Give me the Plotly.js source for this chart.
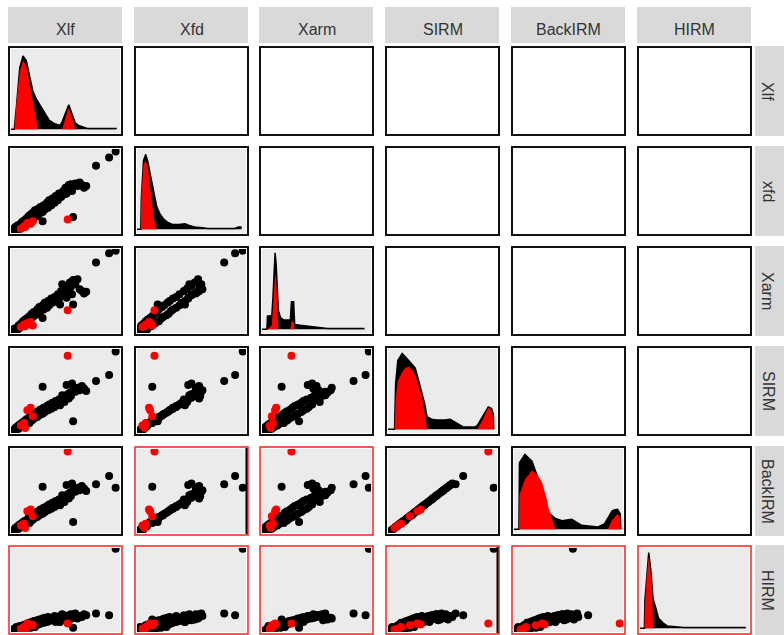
<!DOCTYPE html>
<html><head><meta charset="utf-8">
<script src="https://cdn.plot.ly/plotly-3.0.1.min.js"></script>
<style>html,body{margin:0;padding:0;background:#fff}#chart{width:784px;height:635px}</style>
</head><body><div id="chart"></div>
<script>
// ---------- data ----------
const colLabels = ["Xlf", "Xfd", "Xarm", "SIRM", "BackIRM", "HIRM"];
const rowLabels = ["Xlf", "xfd", "Xarm", "SIRM", "BackIRM", "HIRM"];

// sample group: k = black, r = red
const group = ["k","k","k","k","k","k","k","k","k","k","k","k","k","k","k","k","k","k","k","k",
  "k","k","k","k","k","k","k","k","k","k","k","k","k","k","k","k","k","k","k","k",
  "k","k","k","k","k","k","k","k","k","k","k","k","k","k","k","k","k",
  "k","k","k","k","k",
  "r","r","r","r","r","r","r"];
const Xlf = [1,2,3,4,5,6,7,8,9,10,11,12,13,14,15,16,17,18,19,20,
  21,22,24,25,26,27,29,30,31,33,34,35,37,38,40,41,43,44,45,46,
  48,49,50,52,53,54,55,57,59,61,63,65,67,69,56,47,51,
  29,57,78,90,96,
  12,15,18,20,9,13,52];
const Xfd = [2,5,1,7,3,9,4,10,6,13,8,15,10,17,12,20,14,22,16,24,
  18,27,20,29,23,31,25,33,28,36,30,39,33,41,36,44,39,47,44,43,
  50,46,54,50,57,53,58,56,59,56,60,57,54,56,50,48,47,
  14,19,80,90,97,
  8,12,11,14,5,7,16];
const Xarm = [1,3,5,2,6,4,9,6,11,8,14,10,16,12,18,14,20,17,23,19,
  25,21,28,23,31,26,33,28,36,30,38,33,41,36,43,38,46,41,34,50,
  45,53,48,56,52,60,55,63,58,64,52,50,47,49,46,58,42,
  18,34,84,95,98,
  10,12,13,9,7,8,27];
const SIRM = [1,3,2,6,4,8,5,10,7,12,9,14,11,16,13,18,12,20,15,22,
  17,24,19,26,21,28,23,30,25,32,27,34,29,36,31,38,34,40,33,40,
  42,37,44,46,41,48,44,51,49,54,51,56,53,50,59,45,57,
  55,14,62,69,97,
  12,27,30,20,9,6,92];
const BackIRM = [1,3,2,6,4,8,5,10,7,12,9,14,11,15,13,18,12,20,15,21,
  17,24,19,26,21,28,23,30,25,32,27,34,29,36,31,38,34,40,33,40,
  42,37,44,46,41,48,44,51,49,54,51,56,53,50,59,45,57,
  55,13,58,68,54,
  11,26,28,20,9,6,97];
const HIRM = [1,2,4,1,6,3,2,7,5,3,8,6,9,4,10,7,11,5,12,8,
  13,6,14,9,15,10,16,11,17,12,18,13,16,14,19,12,17,15,12,20,
  16,19,17,14,20,15,21,17,22,16,19,18,21,20,18,21,19,
  15,5,22,20,99,
  6,10,9,8,4,3,10];

// density curves on the diagonal (x grid per variable, heights in % of max)
const XlfGrid   = [0,3,5,8,11,14,17,20,23,25,27,31,35,40,45,47,50,53,56,59,62,66,70,80,90,97];
const XlfAll    = [0,0,30,80,96,90,70,50,40,35,30,20,12,7,5,10,22,32,20,8,5,3,1,1,1,1];
const XlfRed    = [0,0,35,75,90,82,60,35,15,0,0,0,0,0,0,0,15,28,15,0,0,0,0,0,0,0];
const XfdGrid   = [0,3.5,4,6,8,10,12,14,16,18,21,24,28,33,38,44,48,53,60,65,80,90,93,96];
const XfdAll    = [0,0,42,90,98,88,73,58,45,30,20,14,9,6,6,7,5,3,2,1,1,1,3,3];
const XfdRed    = [0,0,45,85,90,80,55,30,10,0,0,0,0,0,0,0,0,0,0,0,0,0,0,0];
const XarmGrid  = [0,4.5,5,9,10,11,12,13,14,15,17,20,26,27,29,30,35,41,50,60,94];
const XarmAll   = [0,0,17,18,40,70,100,85,55,25,15,12,12,36,36,6,5,4,2,1,1];
const XarmRed   = [0,0,0,5,30,60,72,65,20,0,0,0,0,10,10,0,0,0,0,0,0];
const SIRMGrid  = [0,6,7,9,13,16,19,22,25,29,31,34,35,36,40,45,52,57,63,69,75,80,82,86,92,95,96.5,97];
const SIRMAll   = [0,0,60,90,99,95,90,85,80,59,48,31,22,16,13,12,12,13,8,3,3,3,5,14,29,27,20,0];
const SIRMRed   = [0,0,40,63,75,80,82,78,71,50,43,18,5,0,0,0,0,0,0,0,0,0,0,10,28,25,15,0];
const BackGrid  = [0,4.5,5,10,16.5,21,25.5,30,32,36,38,44,53,62,77,83,86,90,92,95,97.5,98];
const BackAll   = [0,0,87,98,89,71,50,26,21,16,14,11,13,5,3,7,15,24,25,26,20,0];
const BackRed   = [0,0,45,65,77,72,62,40,26,8,0,0,0,0,0,0,0,12,15,20,15,0];
const HIRMGrid  = [0,4,4.5,6,8,10,11,11.5,12,14,17,21,25,40,97];
const HIRMAll   = [0,0,37,70,99,75,60,45,38,29,13,7,3,1,1];
const HIRMRed   = [0,0,30,65,94,70,58,30,0,0,0,0,0,0,0];

// ---------- assembly ----------
const vals = [Xlf, Xfd, Xarm, SIRM, BackIRM, HIRM];
const dens = [[XlfGrid, XlfAll, XlfRed], [XfdGrid, XfdAll, XfdRed], [XarmGrid, XarmAll, XarmRed],
              [SIRMGrid, SIRMAll, SIRMRed], [BackGrid, BackAll, BackRed], [HIRMGrid, HIRMAll, HIRMRed]];

const W = 784, H = 635;
const colL = [8, 134, 259, 385, 511, 637], pw = 115;
const rowT = [46, 146, 246, 346, 446, 545], ph = 90;
const inset = 3;
const px = v => v / W, py = v => 1 - v / H;

const redBorder = (r, c) => (r === 4 && (c === 1 || c === 2)) || r === 5;

const traces = [], shapes = [], annotations = [];
const layout = {
  width: W, height: H, margin: {l: 0, r: 0, t: 0, b: 0},
  paper_bgcolor: "#ffffff", plot_bgcolor: "rgba(0,0,0,0)", showlegend: false
};

for (let r = 0; r < 6; r++) {
  for (let c = 0; c < 6; c++) {
    const k = r * 6 + c + 1;
    const xa = k === 1 ? "x" : "x" + k, ya = k === 1 ? "y" : "y" + k;
    const L = colL[c], R = colL[c] + pw, T = rowT[r], B = rowT[r] + ph;
    const axBase = {showgrid: false, zeroline: false, showticklabels: false, ticks: "", showline: false, fixedrange: true};
    layout["xaxis" + (k === 1 ? "" : k)] = Object.assign({}, axBase, {
      domain: [px(L + inset), px(R - inset)], range: [0, 100], anchor: ya});
    layout["yaxis" + (k === 1 ? "" : k)] = Object.assign({}, axBase, {
      domain: [py(B - inset), py(T + inset)], range: r === c ? [-5, 105] : [0, 100], anchor: xa});

    const lower = r >= c;
    shapes.push({type: "rect", xref: "paper", yref: "paper", layer: "below",
      x0: px(L + inset), x1: px(R - inset), y0: py(B - inset), y1: py(T + inset),
      fillcolor: lower ? "#EBEBEB" : "#FFFFFF", line: {width: 0}});
    const red = redBorder(r, c);
    shapes.push({type: "rect", xref: "paper", yref: "paper", layer: "above",
      x0: px(L + 1), x1: px(R - 1), y0: py(B - 1), y1: py(T + 1),
      fillcolor: "rgba(0,0,0,0)", line: {color: red ? "#FF2020" : "#111111", width: red ? 1.5 : 2}});

    if (r === c) {
      const [g, all, rd] = dens[c];
      traces.push({type: "scatter", mode: "lines", x: g, y: all, xaxis: xa, yaxis: ya,
        fill: "tozeroy", fillcolor: "#000000", line: {color: "#000000", width: 1.5}, hoverinfo: "skip"});
      traces.push({type: "scatter", mode: "lines", x: g, y: rd, xaxis: xa, yaxis: ya,
        fill: "tozeroy", fillcolor: "#FF0000", line: {color: "#FF0000", width: 0}, hoverinfo: "skip"});
    } else if (r > c) {
      const xs = vals[c], ys = vals[r];
      const bx = [], by = [], rx = [], ry = [];
      for (let i = 0; i < xs.length; i++) {
        if (group[i] === "r") { rx.push(xs[i]); ry.push(ys[i]); }
        else { bx.push(xs[i]); by.push(ys[i]); }
      }
      traces.push({type: "scatter", mode: "markers", x: bx, y: by, xaxis: xa, yaxis: ya,
        marker: {size: 8, color: "#000000"}, hoverinfo: "skip"});
      traces.push({type: "scatter", mode: "markers", x: rx, y: ry, xaxis: xa, yaxis: ya,
        marker: {size: 8, color: "#FF0000"}, hoverinfo: "skip"});
    }
  }
}

// stray black edge lines seen in two highlighted panels
[[4, 1], [5, 3]].forEach(([r, c]) => {
  const R = colL[c] + pw - 2.5;
  shapes.push({type: "line", xref: "paper", yref: "paper", layer: "above",
    x0: px(R), x1: px(R), y0: py(rowT[r] + ph - 2), y1: py(rowT[r] + 2),
    line: {color: "#000000", width: 2}});
});

// strips
const stripFont = {family: "Liberation Sans, Arial, sans-serif", size: 16, color: "#333333"};
for (let c = 0; c < 6; c++) {
  shapes.push({type: "rect", xref: "paper", yref: "paper", layer: "below",
    x0: px(colL[c]), x1: px(colL[c] + pw - 1), y0: py(43), y1: py(7),
    fillcolor: "#D9D9D9", line: {width: 0}});
  annotations.push({xref: "paper", yref: "paper", x: px(colL[c] + pw / 2), y: py(29.5),
    text: colLabels[c], showarrow: false, font: stripFont, xanchor: "center", yanchor: "middle"});
}
for (let r = 0; r < 6; r++) {
  shapes.push({type: "rect", xref: "paper", yref: "paper", layer: "below",
    x0: px(755), x1: px(790), y0: py(rowT[r] + ph), y1: py(rowT[r]),
    fillcolor: "#D9D9D9", line: {width: 0}});
  annotations.push({xref: "paper", yref: "paper", x: px(768), y: py(rowT[r] + ph / 2),
    text: rowLabels[r], showarrow: false, font: stripFont, textangle: 90,
    xanchor: "center", yanchor: "middle"});
}

layout.shapes = shapes;
layout.annotations = annotations;
Plotly.newPlot("chart", traces, layout, {staticPlot: true, displayModeBar: false});
</script>
</body></html>
